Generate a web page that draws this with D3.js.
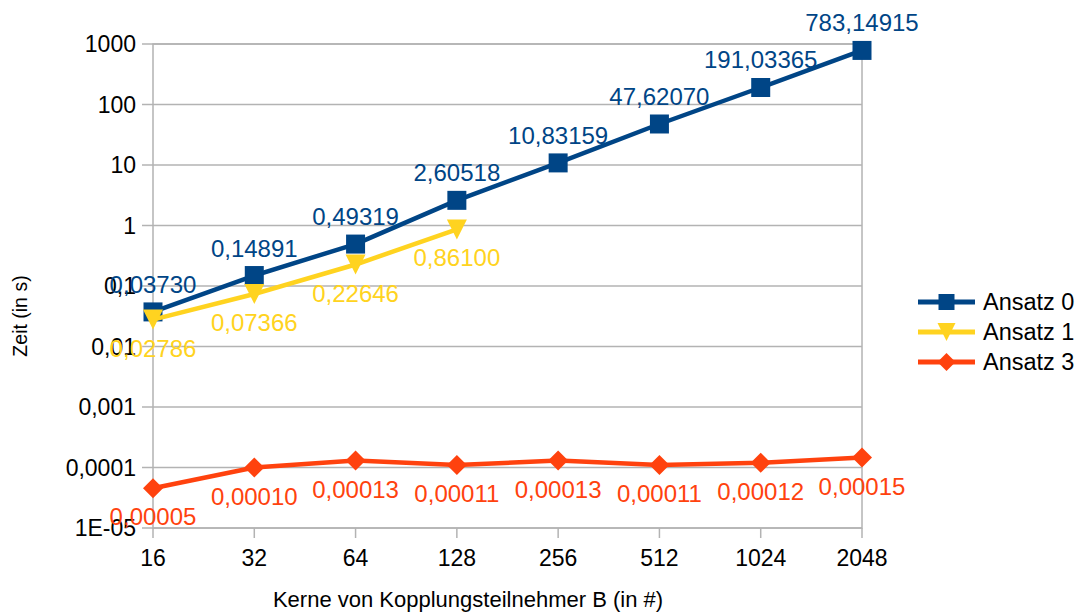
<!DOCTYPE html>
<html>
<head>
<meta charset="utf-8">
<script src="https://cdn.jsdelivr.net/npm/d3@7"></script>
<style>
  body { margin: 0; background: #fff; }
  text { font-family: "Liberation Sans", Arial, sans-serif; }
</style>
</head>
<body>
<div id="chart"></div>
<script>
const cores = ["16", "32", "64", "128", "256", "512", "1024", "2048"];
const ansatz0 = [0.03730, 0.14891, 0.49319, 2.60518, 10.83159, 47.62070, 191.03365, 783.14915];
const ansatz1 = [0.02786, 0.07366, 0.22646, 0.86100];
const ansatz3 = [0.0000455, 0.00010, 0.00013, 0.00011, 0.00013, 0.00011, 0.00012, 0.000146];
const yTicks = [1e-5, 1e-4, 1e-3, 1e-2, 1e-1, 1, 10, 100, 1000];
const yTickLabels = ["1E-05", "0,0001", "0,001", "0,01", "0,1", "1", "10", "100", "1000"];

const series = [
    { name: "Ansatz 0", values: ansatz0, color: "#004586", shape: "square", below: false },
    { name: "Ansatz 1", values: ansatz1, color: "#ffd320", shape: "triangle", below: true },
    { name: "Ansatz 3", values: ansatz3, color: "#ff420e", shape: "diamond", below: true }
];

const width = 1081, height = 613;
const plotL = 153, plotR = 862, plotT = 44, plotB = 528;

const svg = d3.select("#chart").append("svg")
    .attr("width", width)
    .attr("height", height);

const x = d3.scalePoint().domain(cores).range([plotL, plotR]);
const y = d3.scaleLog().domain([1e-5, 1000]).range([plotB, plotT]);

const grid = "#b3b3b3";

// horizontal grid lines
svg.append("g")
    .selectAll("line")
    .data(yTicks)
    .join("line")
    .attr("x1", plotL - 11)
    .attr("x2", plotR)
    .attr("y1", d => y(d))
    .attr("y2", d => y(d))
    .attr("stroke", grid)
    .attr("stroke-width", 1.5);

// walls
svg.append("rect")
    .attr("x", plotL).attr("y", plotT)
    .attr("width", plotR - plotL).attr("height", plotB - plotT)
    .attr("fill", "none")
    .attr("stroke", grid)
    .attr("stroke-width", 1.5);

// x ticks
svg.append("g")
    .selectAll("line")
    .data(cores)
    .join("line")
    .attr("x1", d => x(d)).attr("x2", d => x(d))
    .attr("y1", plotB).attr("y2", plotB + 10)
    .attr("stroke", grid)
    .attr("stroke-width", 1.5);

svg.append("g")
    .selectAll("text")
    .data(cores)
    .join("text")
    .attr("x", d => x(d))
    .attr("y", 566)
    .attr("text-anchor", "middle")
    .attr("font-size", 23)
    .text(d => d);

svg.append("g")
    .selectAll("text")
    .data(yTicks)
    .join("text")
    .attr("x", 136)
    .attr("y", d => y(d))
    .attr("dy", "0.36em")
    .attr("text-anchor", "end")
    .attr("font-size", 23)
    .text((d, i) => yTickLabels[i]);

// axis titles
svg.append("text")
    .attr("x", 468).attr("y", 607)
    .attr("text-anchor", "middle")
    .attr("font-size", 22)
    .text("Kerne von Kopplungsteilnehmer B (in #)");

svg.append("text")
    .attr("transform", "translate(27,316) rotate(-90)")
    .attr("text-anchor", "middle")
    .attr("font-size", 19.5)
    .text("Zeit (in s)");

function markerPath(shape, s) {
    if (shape == "square") return `M${-s},${-s}H${s}V${s}H${-s}Z`;
    if (shape == "triangle") return `M${-s},${-s}H${s}L0,${s}Z`;
    return `M0,${-s}L${s},0L0,${s}L${-s},0Z`;
}

const fmt = v => v.toFixed(5).replace(".", ",");

const line = d3.line()
    .x(d => x(d.c))
    .y(d => y(d.v));

for (const s of series) {
    const pts = s.values.map((v, i) => ({ c: cores[i], v: v }));
    const g = svg.append("g");

    g.append("path")
        .datum(pts)
        .attr("d", line)
        .attr("fill", "none")
        .attr("stroke", s.color)
        .attr("stroke-width", 4.5)
        .attr("stroke-linejoin", "round");

    g.selectAll("path.m")
        .data(pts)
        .join("path")
        .attr("class", "m")
        .attr("transform", d => `translate(${x(d.c)},${y(d.v)})`)
        .attr("d", markerPath(s.shape, s.shape == "square" ? 9.5 : 10))
        .attr("fill", s.color);

    g.selectAll("text")
        .data(pts)
        .join("text")
        .attr("x", d => x(d.c))
        .attr("y", d => y(d.v) + (s.below ? 37 : -19))
        .attr("text-anchor", "middle")
        .attr("font-size", 24)
        .attr("fill", s.color)
        .text(d => fmt(d.v));
}

// legend
const legend = svg.append("g")
    .selectAll("g")
    .data(series)
    .join("g")
    .attr("transform", (d, i) => `translate(918,${302 + i * 30})`);

legend.append("line")
    .attr("x1", 0).attr("x2", 57)
    .attr("stroke", d => d.color)
    .attr("stroke-width", 5);

legend.append("path")
    .attr("transform", "translate(28.5,0)")
    .attr("d", d => markerPath(d.shape, d.shape == "square" ? 8 : 9))
    .attr("fill", d => d.color);

legend.append("text")
    .attr("x", 65)
    .attr("dy", "0.36em")
    .attr("font-size", 23.5)
    .text(d => d.name);
</script>
</body>
</html>
